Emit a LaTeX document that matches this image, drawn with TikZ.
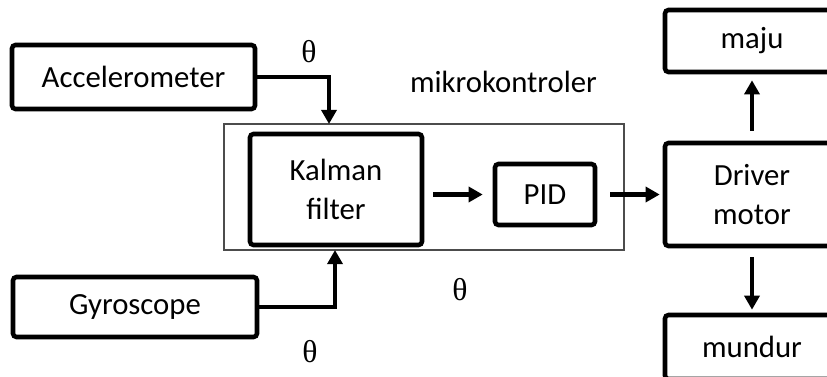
\documentclass[tikz,border=0pt]{standalone}
\usepackage{fontspec}
\setmainfont{Carlito}
\newfontfamily\thetafont{Liberation Serif}
\usepackage{tikz}
\usetikzlibrary{arrows.meta}

\begin{document}
\begin{tikzpicture}[font=\fontsize{17.5}{22}\selectfont,
  blok/.style={draw,line width=2.6pt,rounded corners=2pt,inner sep=0pt,fill=white},
  arr/.style={line width=2.3pt,-{Triangle[length=8pt,width=8.5pt]}},
  sudut/.style={font=\fontsize{18}{22}\thetafont}]
  \useasboundingbox (0,0) rectangle (16.54,7.52);
  \clip (0,0) rectangle (16.54,7.52);
  \node[draw=black!70,line width=0.6pt,minimum width=8cm,minimum height=2.52cm] (mikro) at (8.48,3.78) {};
  \node (mkl) at (10.07,5.88) {mikrokontroler};
  \node[blok,minimum width=4.86cm,minimum height=1.28cm] (acc) at (2.67,5.98) {Accelerometer};
  \node[blok,minimum width=4.88cm,minimum height=1.2cm] (gyro) at (2.70,1.38) {Gyroscope};
  \node[blok,minimum width=3.44cm,minimum height=2.22cm,align=center] (kalman) at (6.72,3.73) {Kalman\\filter};
  \node[blok,minimum width=2cm,minimum height=1.22cm] (pid) at (10.9,3.63) {PID};
  \node[blok,minimum width=3.48cm,minimum height=2.06cm,align=center] (driver) at (15.04,3.63) {Driver\\motor};
  \node[blok,minimum width=3.48cm,minimum height=1.24cm] (maju) at (15.04,6.70) {maju};
  \node[blok,minimum width=3.48cm,minimum height=1.28cm] (mundur) at (15.04,0.58) {mundur};
  \node[sudut] (t1) at (6.18,6.48) {θ};
  \node[sudut] (t2) at (9.2,1.72) {θ};
  \node[sudut] (t3) at (6.2,0.48) {θ};
  \coordinate (accin) at (6.58,5.04);
  \coordinate (gyroin) at (6.70,2.52);
  \draw[arr] (acc.east) -| (accin);
  \draw[arr] (gyro.east) -| (gyroin);
  \draw[arr,shorten <=0.18cm,shorten >=0.2cm] (kalman.east |- pid.west) -- (pid.west);
  \draw[arr,shorten <=0.26cm,shorten >=0.06cm] (pid.east) -- (driver.west);
  \draw[arr,shorten <=0.2cm,shorten >=0.12cm] (driver.north) -- (maju.south);
  \draw[arr,shorten <=0.18cm,shorten >=0.06cm] (driver.south) -- (mundur.north);
\end{tikzpicture}
\end{document}
